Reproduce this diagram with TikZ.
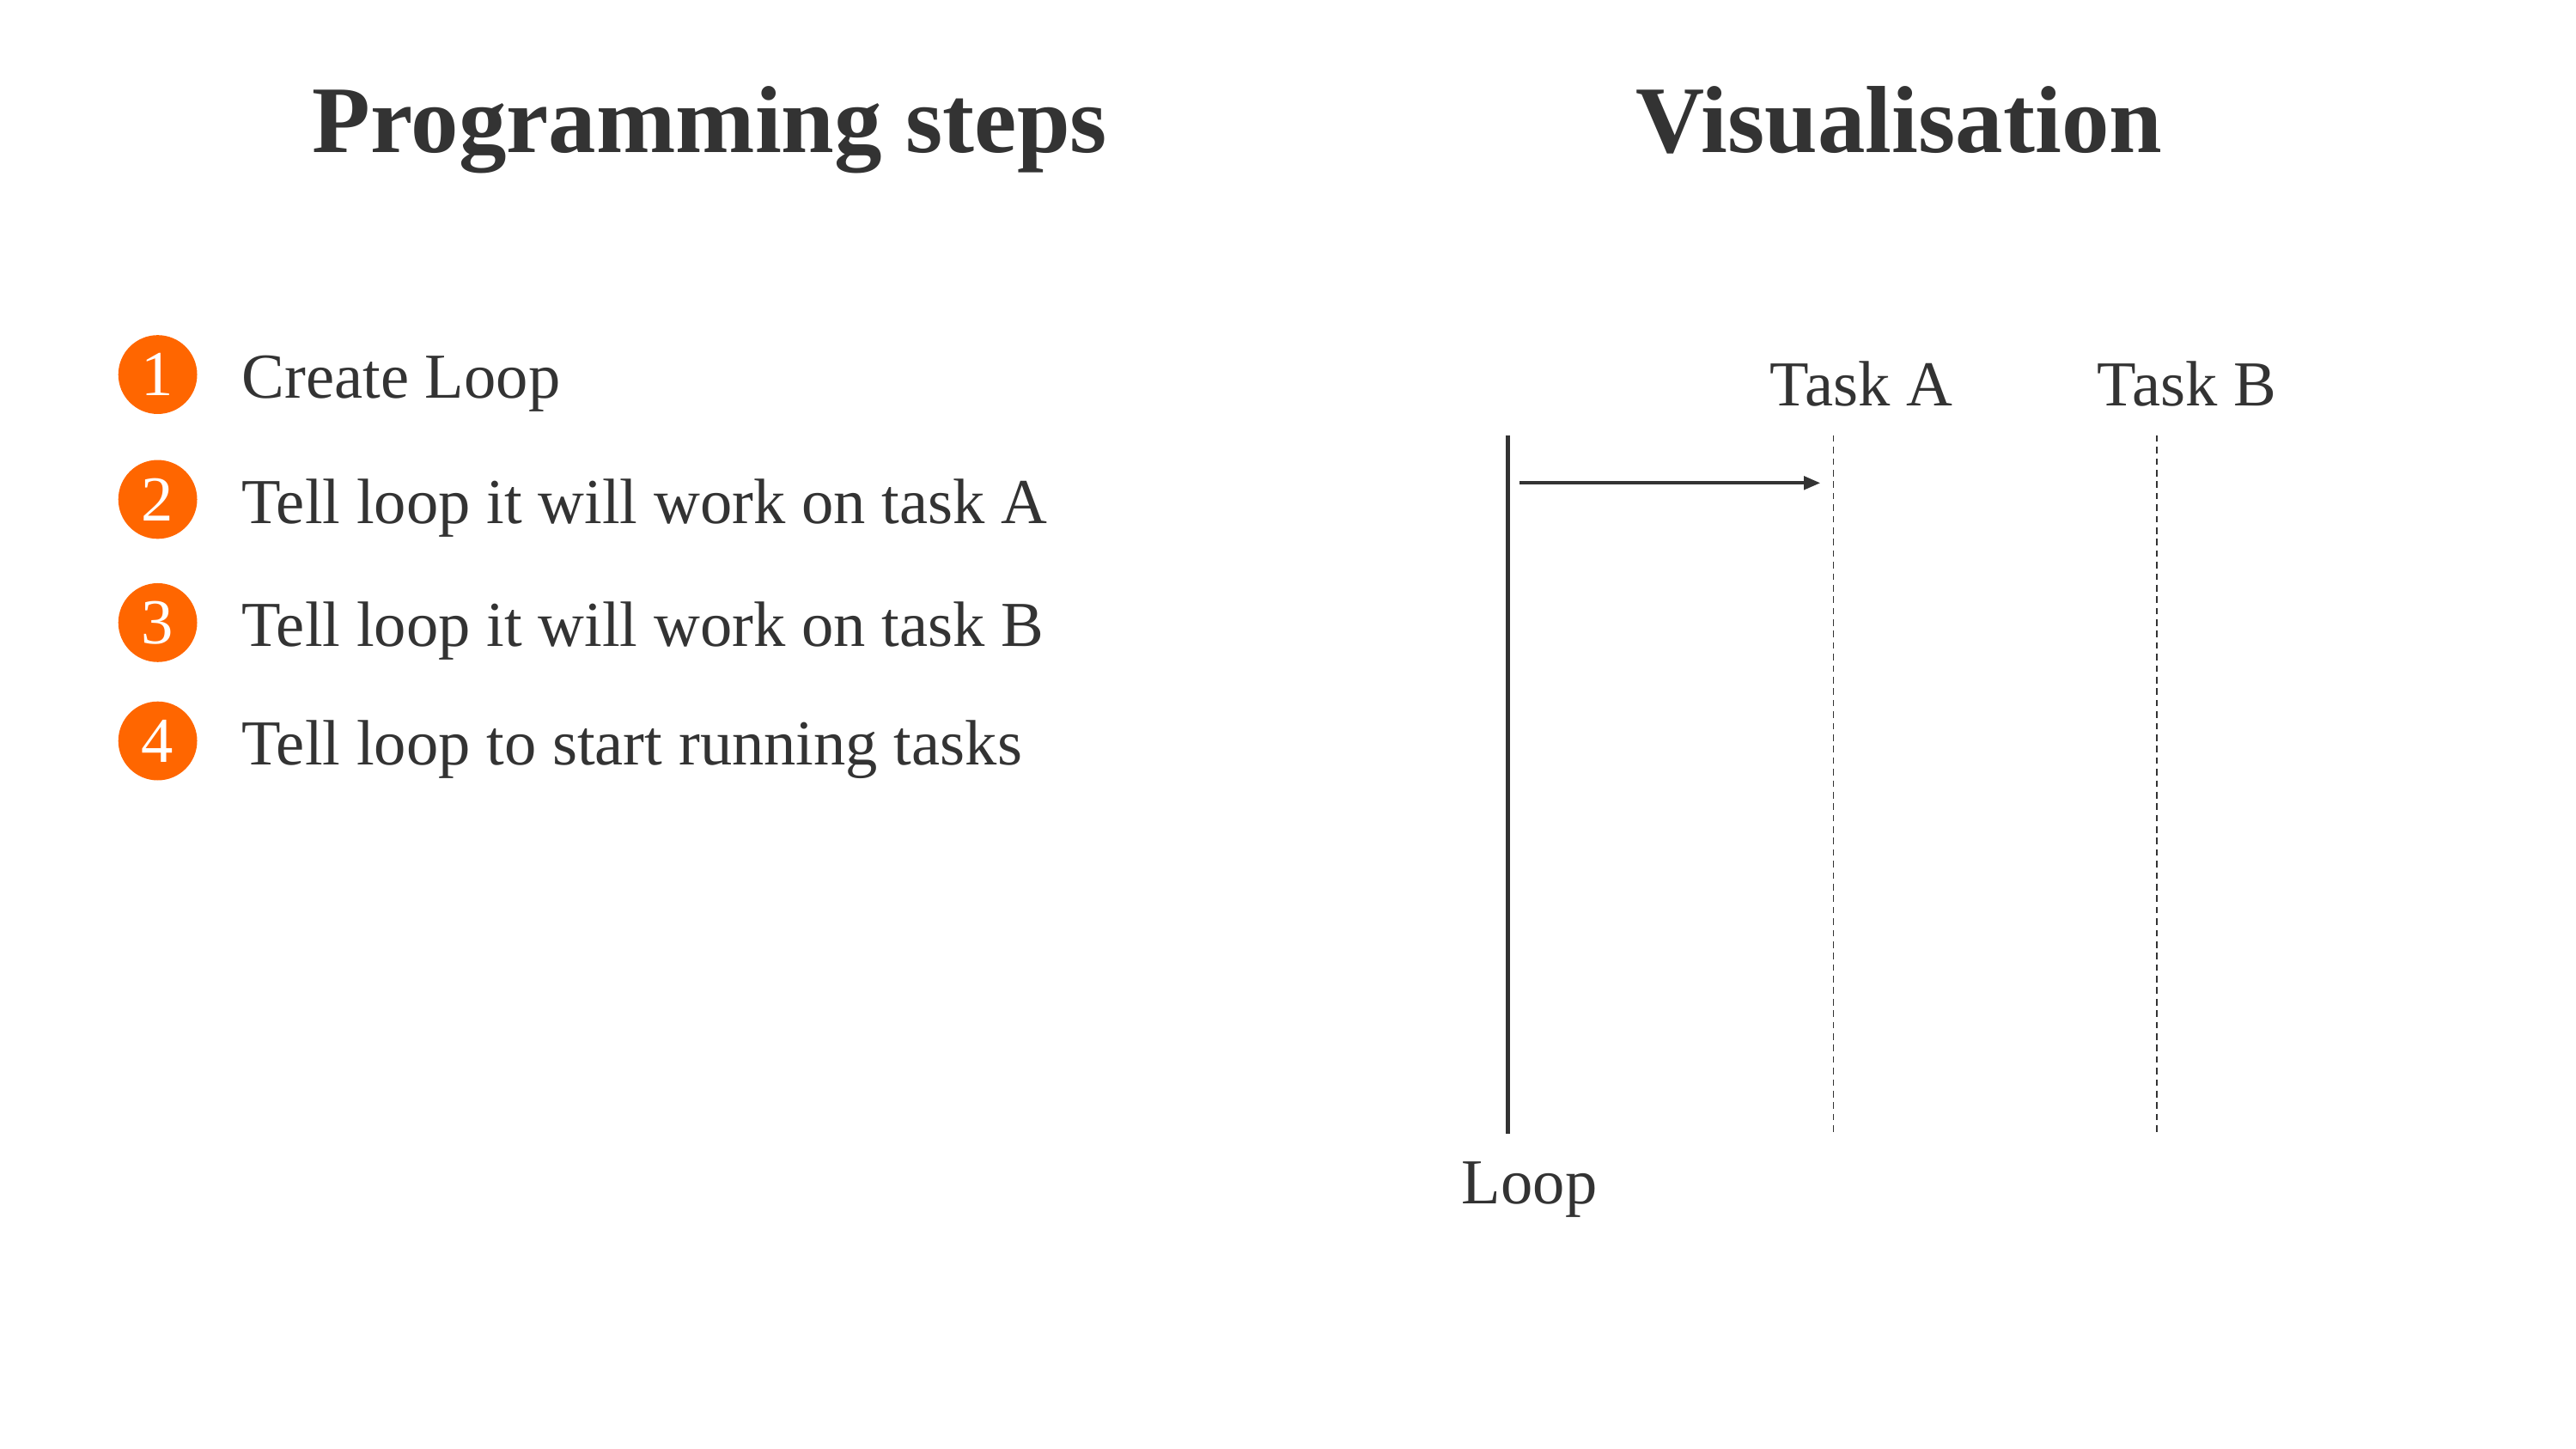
\documentclass[tikz,border=0pt]{standalone}
\usepackage{fontspec}
\setmainfont{Liberation Serif}
\usetikzlibrary{arrows.meta}
\definecolor{ink}{HTML}{333333}
\definecolor{badge}{HTML}{FF6600}
\begin{document}
\begin{tikzpicture}[x=1pt,y=-1pt,
  heading/.style={text=ink,anchor=base,inner sep=0pt,font=\fontsize{58}{66}\selectfont\bfseries},
  steptext/.style={text=ink,anchor=base west,inner sep=0pt,font=\fontsize{39}{46}\selectfont},
  label/.style={text=ink,anchor=base,inner sep=0pt,font=\fontsize{39}{46}\selectfont},
  stepnum/.style={circle,fill=badge,text=white,minimum size=48pt,inner sep=0pt,font=\fontsize{39}{46}\selectfont},
  lifeline/.style={draw=ink,line width=0.9pt,dash pattern=on 4pt off 3pt},
  mainline/.style={draw=ink,line width=2.6pt},
  call/.style={draw=ink,line width=2pt,-{Triangle[length=10pt,width=8pt]}}]
\useasboundingbox (0,0) rectangle (1568,882);

% headings
\node[heading] (h1) at (432,93) {Programming steps};
\node[heading] (h2) at (1156,93) {Visualisation};

% numbered steps
\node[stepnum] (n1) at (96,228) {1};
\node[stepnum] (n2) at (96,304) {2};
\node[stepnum] (n3) at (96,379) {3};
\node[stepnum] (n4) at (96,451) {4};
\node[steptext] (s1) at (147,242.5) {Create Loop};
\node[steptext] (s2) at (147,318.5) {Tell loop it will work on task A};
\node[steptext] (s3) at (147,393.5) {Tell loop it will work on task B};
\node[steptext] (s4) at (147,465.5) {Tell loop to start running tasks};

% timelines
\coordinate (loopTop) at (918,265);
\coordinate (loopBot) at (918,690);
\coordinate (aTop) at (1116,265);
\coordinate (aBot) at (1116,690);
\coordinate (bTop) at (1313,265);
\coordinate (bBot) at (1313,690);
\draw[mainline] (loopTop) -- (loopBot);
\draw[lifeline] (aTop) -- (aBot);
\draw[lifeline] (bTop) -- (bBot);

\node[label] (la) at (1133,247) {Task A};
\node[label] (lb) at (1331,247) {Task B};
\node[label] (ll) at (931,733) {Loop};

% loop hands over to task A
\coordinate (callStart) at (925,294);
\coordinate (callEnd) at (1108,294);
\draw[call] (callStart) -- (callEnd);
\end{tikzpicture}
\end{document}
